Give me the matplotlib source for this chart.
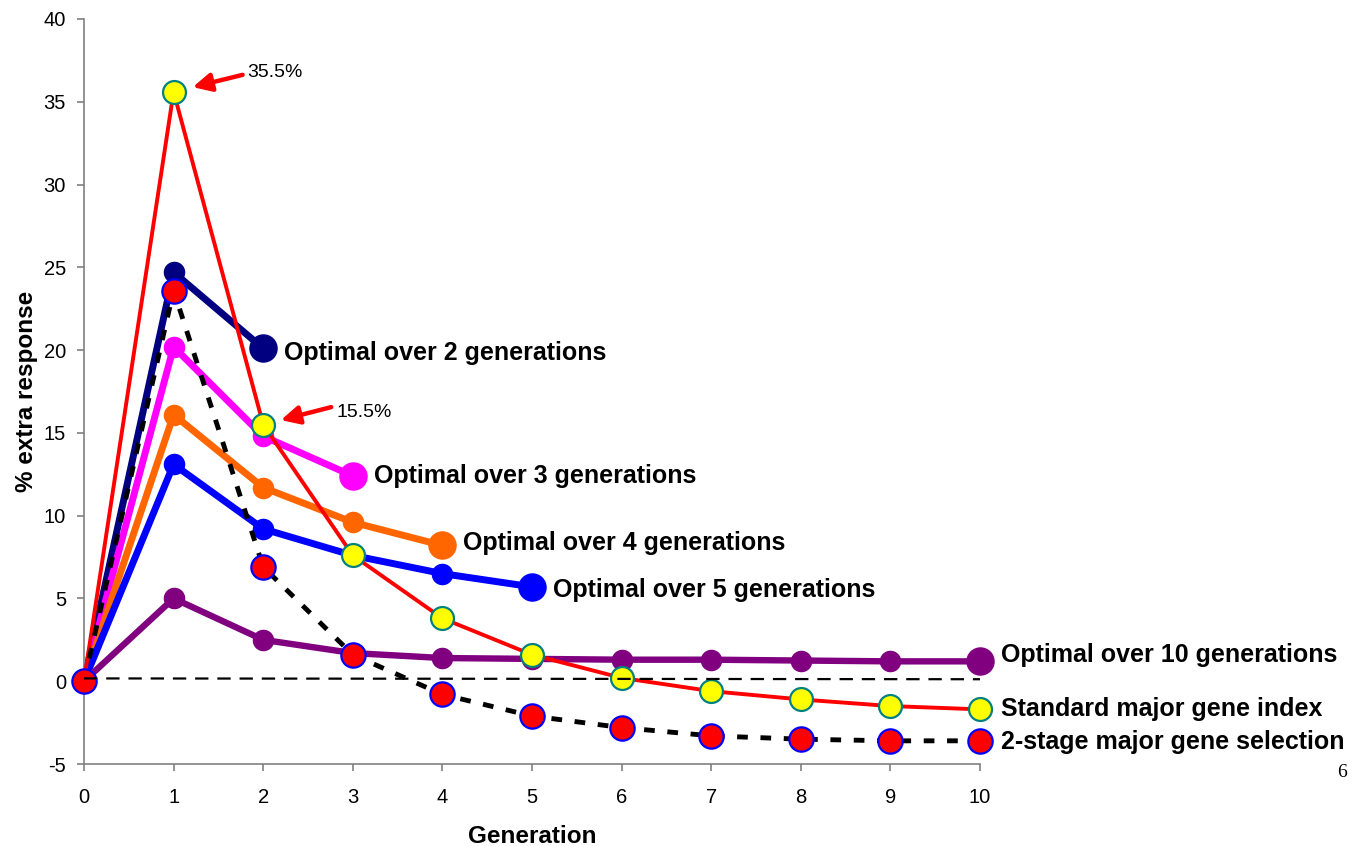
import matplotlib
matplotlib.use("Agg")
import matplotlib.pyplot as plt

# ---------------- data ----------------
generations = [0, 1, 2, 3, 4, 5, 6, 7, 8, 9, 10]
standard_index = [0, 35.6, 15.5, 7.6, 3.8, 1.6, 0.2, -0.6, -1.1, -1.5, -1.7]
two_stage = [0, 23.6, 6.9, 1.6, -0.8, -2.1, -2.8, -3.3, -3.5, -3.6, -3.6]
opt2 = [0, 24.7, 20.1]
opt3 = [0, 20.2, 14.8, 12.4]
opt4 = [0, 16.1, 11.7, 9.6, 8.2]
opt5 = [0, 13.1, 9.2, 7.6, 6.5, 5.7]
opt10 = [0, 5.0, 2.5, 1.7, 1.4, 1.35, 1.3, 1.3, 1.25, 1.2, 1.2]
baseline_x = [0, 10]
baseline_y = [0.17, 0.12]

opt_labels = ["Optimal over 2 generations", "Optimal over 3 generations",
              "Optimal over 4 generations", "Optimal over 5 generations",
              "Optimal over 10 generations"]
standard_label = "Standard major gene index"
two_stage_label = "2-stage major gene selection"
annot_points = [(1, 35.6, "35.5%"), (2, 15.5, "15.5%")]
y_ticks = [-5, 0, 5, 10, 15, 20, 25, 30, 35, 40]

plt.rcParams['font.family'] = ['Liberation Sans', 'DejaVu Sans']
plt.rcParams['axes.unicode_minus'] = False

fig = plt.figure(figsize=(13.59, 8.46), dpi=100)
ax = fig.add_axes([84 / 1359, 82 / 846, 896 / 1359, 745 / 846])

opt_series = [opt2, opt3, opt4, opt5, opt10]
opt_colors = ["#000080", "#FF00FF", "#FF6600", "#0000FF", "#800080"]
opt_lw = [5, 5, 5, 5, 4.6]
opt_text_dy = [-5, 0, 2, -3, 6]

LABEL_FS = 18

for vals, col, lw, lab, dy in zip(opt_series, opt_colors, opt_lw, opt_labels, opt_text_dy):
    xs = generations[:len(vals)]
    ax.plot(xs, vals, color=col, lw=lw, marker='o', ms=14.5, mec=col, mfc=col,
            clip_on=False, zorder=2, solid_capstyle='round')
    ax.plot(xs[-1], vals[-1], marker='o', ms=19.5, color=col, clip_on=False, zorder=2)
    ax.annotate(lab, xy=(xs[-1], vals[-1]), xytext=(21, dy), textcoords='offset pixels',
                ha='left', va='center', fontsize=LABEL_FS, fontweight='bold',
                annotation_clip=False)

# Standard major gene index
ax.plot(generations, standard_index, color='#FF0000', lw=2.8, marker='o', ms=16.5,
        mfc='#FFFF00', mec='#008080', mew=1.6, clip_on=False, zorder=3)
ax.annotate(standard_label, xy=(generations[-1], standard_index[-1]), xytext=(21, 0),
            textcoords='offset pixels', ha='left', va='center', fontsize=LABEL_FS,
            fontweight='bold', annotation_clip=False)

# 2-stage major gene selection
ax.plot(generations, two_stage, color='black', lw=3.5, ls=(0, (2.2, 2.6)), marker='o',
        ms=17.5, mfc='#FF0000', mec='#0000FF', mew=1.6, clip_on=False, zorder=4)
ax.annotate(two_stage_label, xy=(generations[-1], two_stage[-1]), xytext=(21, -1),
            textcoords='offset pixels', ha='left', va='center', fontsize=LABEL_FS,
            fontweight='bold', annotation_clip=False)

# thin dashed reference line
ax.plot(baseline_x, baseline_y, color='black', lw=1.6, ls=(0, (6, 4)), zorder=5,
        clip_on=False)

# annotations with red arrows
arrow_offsets = [((18, 8), (69, 17), (74, 19)), ((17, 6.5), (68, 17.5), (73, 12.5))]
for (px, py, txt), (tip, tail, toff) in zip(annot_points, arrow_offsets):
    d = (tip[0] ** 2 + tip[1] ** 2) ** 0.5
    ax.annotate('', xy=(px, py), xytext=tail, textcoords='offset pixels',
                arrowprops=dict(arrowstyle='-|>,head_length=1.1,head_width=0.55',
                                color='#FF0000', lw=3.2, shrinkA=0,
                                shrinkB=d / 1.389),
                annotation_clip=False, zorder=6)
    ax.annotate(txt, xy=(px, py), xytext=toff, textcoords='offset pixels',
                ha='left', va='center', fontsize=14, annotation_clip=False)

# axes styling
ax.set_xlim(0, 10)
ax.set_ylim(-5, 40)
ax.set_xticks(generations)
ax.set_yticks(y_ticks)
for s in ['top', 'right']:
    ax.spines[s].set_visible(False)
for s in ['left', 'bottom']:
    ax.spines[s].set_color('#808080')
    ax.spines[s].set_linewidth(1.2)
ax.tick_params(axis='both', colors='#808080', length=5, width=1.2, labelsize=14.5,
               labelcolor='black')
ax.tick_params(axis='y', pad=8)
ax.tick_params(axis='x', pad=12)

ax.set_xlabel("Generation", fontsize=17.5, fontweight='bold', labelpad=13)
ax.set_ylabel("% extra response", fontsize=17.5, fontweight='bold', labelpad=4)

fig.text(1342 / 1359, 1 - 772 / 846, "6", family='Liberation Serif', fontsize=14,
         ha='center', va='center')

fig.savefig("out.png", dpi=100)
